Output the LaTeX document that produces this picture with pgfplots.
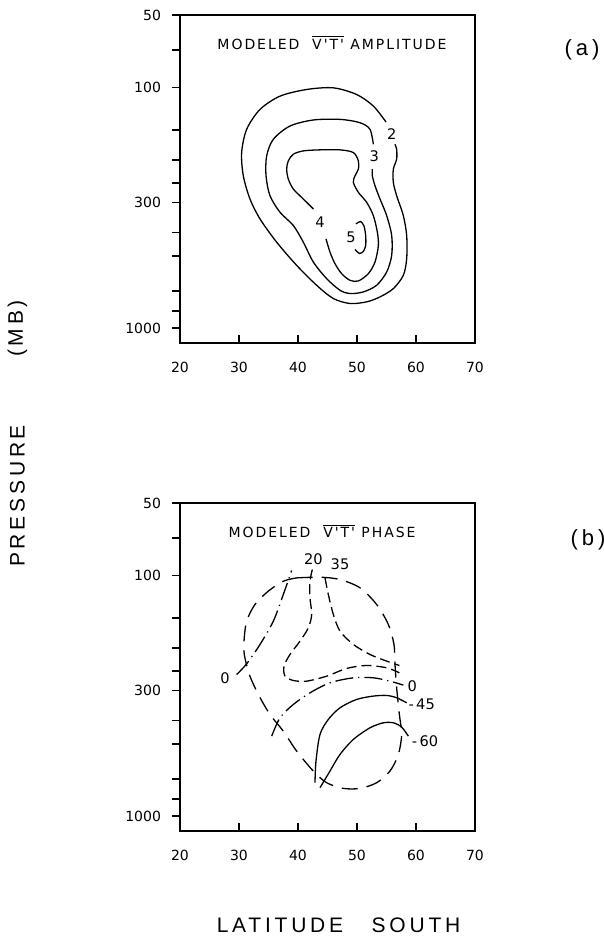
\documentclass[border=0pt]{standalone}
\usepackage{fontspec}
\setmainfont{DejaVu Sans}
\newfontfamily\spacedfont[LetterSpace=18]{Liberation Sans}
\newfontfamily\titlefont[LetterSpace=14]{DejaVu Sans}
\newfontfamily\numfont{DejaVu Sans}
\usepackage{pgfplots}
\pgfplotsset{compat=1.18}
\tikzset{
  ct/.style={black, line width=0.65pt, smooth},
  lbl/.style={font=\numfont\fontsize{7.3}{8}\selectfont, inner sep=0pt},
  longdash/.style={dash pattern=on 8pt off 4.5pt},
  shortdash/.style={dash pattern=on 5pt off 2.5pt},
  dashdot/.style={dash pattern=on 9pt off 2.5pt on 0.6pt off 2.5pt},
}
\begin{document}
\begin{tikzpicture}
\path[use as bounding box] (0,0) rectangle (302pt,475pt);

% ---------------- panel (a) ----------------
\begin{axis}[
    at={(90pt,303.5pt)}, anchor=south west,
    scale only axis, width=147.5pt, height=164pt,
    xmin=20, xmax=70, ymode=log, y dir=reverse, ymin=50, ymax=1150,
    xtick={20,30,40,50,60,70}, xticklabels={20,30,40,50,60,70},
    ytick={50,100,300,1000}, yticklabels={50,100,300,1000},
    minor ytick={70,150,200,250,400,500,700,850},
    xtick pos=bottom, ytick pos=left, tick align=inside,
    major tick length=4pt, minor tick length=4pt,
    tick style={black, line width=0.9pt},
    ytick style={xshift=-4pt},
    axis line style={line width=0.9pt},
    tick label style={font=\numfont\fontsize{7}{8}\selectfont},
    /pgf/number format/assume math mode=true,
    yticklabel style={xshift=-6pt},
    xticklabel style={yshift=-6pt},
    clip=false]
% contour 2
\addplot[ct] coordinates {
(54.92,139.1) (52.77,119.4) (49.94,106.9) (45.99,100.3) (41.47,101.9)
(36.95,108.6) (33.56,123.3) (31.30,149.1) (30.45,186.2) (30.73,232.5)
(31.86,290.3) (33.56,351.2) (36.38,438.5) (39.77,547.4) (43.16,662.3)
(45.99,751.6) (48.81,788.4) (51.64,776.0) (53.90,740.0) (56.16,683.7)
(57.85,602.2) (58.42,513.7) (58.42,411.5) (57.85,340.2) (56.72,281.2)
(56.16,247.7) (56.16,218.3) (56.72,198.4) (56.72,180.4) (56.44,172.0)};
% contour 3
\addplot[ct] coordinates {
(52.77,172.0) (52.20,149.1) (50.51,140.0) (47.12,135.6) (42.60,136.4)
(38.64,144.5) (35.82,164.0) (34.69,192.2) (34.58,232.5) (35.25,281.2)
(36.95,329.6) (39.21,374.1) (40.90,438.5) (42.60,530.3) (44.86,621.6)
(47.12,694.6) (48.81,717.0) (51.07,705.7) (53.33,662.3) (55.03,583.3)
(55.88,497.7) (55.88,411.5) (55.03,340.2) (53.90,290.3) (53.05,255.7)
(52.60,232.5) (52.60,218.3)};
% contour 4
\addplot[ct] coordinates {
(42.60,319.2) (40.90,290.3) (39.21,263.9) (38.36,240.0) (38.08,218.3)
(38.36,201.6) (39.21,189.2) (40.90,183.3) (43.73,181.5) (47.12,181.5)
(49.38,186.2) (50.23,201.6) (50.23,218.3) (49.66,232.5) (49.38,247.7)
(50.23,272.4) (51.64,299.6) (52.77,340.2) (53.45,398.6) (53.62,452.6)
(53.05,530.3) (51.92,592.7) (50.23,635.5) (48.81,631.5) (47.40,592.7)
(46.27,538.8) (45.42,482.3) (44.75,424.8)};
% contour 5
\addplot[ct] coordinates {
(49.83,368.3) (50.62,360.2) (51.19,376.5) (51.47,411.5) (51.47,452.6)
(51.07,479.2) (50.40,488.4) (49.66,470.2)};
\node[lbl] at (axis cs:55.88,156) {2};
\node[lbl] at (axis cs:52.94,192) {3};
\node[lbl] at (axis cs:43.73,362) {4};
\node[lbl] at (axis cs:48.98,418) {5};
\node[inner sep=0pt, font=\titlefont\fontsize{7}{8}\selectfont] at (axis cs:45.76,65.2)
  {MODELED\ \ $\overline{\hbox{V'T'}}$\ AMPLITUDE};
\end{axis}

% ---------------- panel (b) ----------------
\begin{axis}[
    at={(90pt,59.5pt)}, anchor=south west,
    scale only axis, width=147.5pt, height=164pt,
    xmin=20, xmax=70, ymode=log, y dir=reverse, ymin=50, ymax=1150,
    xtick={20,30,40,50,60,70}, xticklabels={20,30,40,50,60,70},
    ytick={50,100,300,1000}, yticklabels={50,100,300,1000},
    minor ytick={70,150,200,250,400,500,700,850},
    xtick pos=bottom, ytick pos=left, tick align=inside,
    major tick length=4pt, minor tick length=4pt,
    tick style={black, line width=0.9pt},
    ytick style={xshift=-4pt},
    axis line style={line width=0.9pt},
    tick label style={font=\numfont\fontsize{7}{8}\selectfont},
    /pgf/number format/assume math mode=true,
    yticklabel style={xshift=-6pt},
    xticklabel style={yshift=-6pt},
    clip=false]
% outer envelope
\addplot[ct, longdash] coordinates {
(39.77,102.3) (43.73,101.6) (47.12,103.9) (50.51,112.5) (53.33,131.9)
(55.31,159.7) (56.27,193.3) (56.44,234.1) (56.72,292.5) (57.18,377.5)
(57.57,456.9) (57.01,553.0) (55.59,648.5) (53.33,725.0) (50.51,765.2)
(47.68,765.2) (44.86,725.0) (42.60,648.5) (39.77,535.7) (37.51,442.6)
(35.25,377.5) (33.28,311.8) (31.75,257.6) (30.90,212.7) (30.85,187.3)
(31.30,154.7) (32.71,131.9) (34.97,116.1) (37.51,105.6) (39.77,102.3)};
% 0 (upper, dash-dot)
\addplot[ct, dashdot] coordinates {
(29.60,257.6) (31.30,232.6) (33.56,193.3) (35.82,154.7) (37.51,119.9) (38.93,95.3)};
% 20
\addplot[ct, shortdash] coordinates {
(42.43,94.4) (42.03,105.6) (42.03,123.8) (42.32,145.1) (41.75,164.9)
(40.34,187.3) (38.64,212.7) (37.63,237.8) (37.80,261.7) (39.21,272.8)
(41.47,274.5) (44.86,261.7) (48.25,243.1) (51.64,236.3) (55.03,241.6) (57.18,253.5)};
% 35
\addplot[ct, shortdash] coordinates {
(44.58,102.3) (45.14,119.9) (45.99,145.1) (47.12,170.2) (49.38,193.3)
(52.20,212.7) (55.03,226.7) (57.18,236.3)};
% 0 (lower, dash-dot)
\addplot[ct, dashdot] coordinates {
(35.54,464.2) (36.95,389.7) (39.21,343.0) (42.03,306.9) (45.42,278.9)
(49.38,265.9) (52.77,265.9) (55.59,274.5) (57.85,285.1)};
% -45
\addplot[ct] coordinates {
(42.88,725.0) (43.05,589.5) (43.73,456.9) (45.14,395.9) (47.12,354.1)
(49.94,327.0) (52.77,316.7) (55.03,314.7) (56.72,321.8) (58.42,337.6)};
% -60
\addplot[ct] coordinates {
(43.73,760.3) (45.42,648.5) (47.12,553.0) (49.38,479.2) (52.20,428.8)
(54.46,408.8) (56.16,408.8) (57.57,426.1) (58.70,464.2)};
\node[lbl] at (axis cs:42.60,85.8) {20};
\node[lbl] at (axis cs:47.12,90.0) {35};
\node[lbl] at (axis cs:27.63,267.6) {0};
\node[lbl] at (axis cs:59.38,287.9) {0};
\node[lbl] at (axis cs:60.96,343.0) {-\,45};
\node[lbl] at (axis cs:61.53,486.9) {-\,60};
\node[inner sep=0pt, font=\titlefont\fontsize{7}{8}\selectfont] at (axis cs:44.07,65.3)
  {MODELED\ \ $\overline{\hbox{V'T'}}$\ PHASE};
\end{axis}

% outer labels
\node[font=\spacedfont\fontsize{10.5}{12}\selectfont, rotate=90] at (8.75pt,227pt) {PRESSURE};
\node[font=\spacedfont\fontsize{10.5}{12}\selectfont, rotate=90] at (8.75pt,310.75pt) {(MB)};
\node[font=\spacedfont\fontsize{10.5}{12}\selectfont] at (140pt,12.5pt) {LATITUDE};
\node[font=\spacedfont\fontsize{10.5}{12}\selectfont] at (208pt,12.5pt) {SOUTH};
\node[font=\spacedfont\fontsize{11}{12}\selectfont] at (291pt,450pt) {(a)};
\node[font=\spacedfont\fontsize{11}{12}\selectfont] at (294pt,205pt) {(b)};
\end{tikzpicture}
\end{document}
